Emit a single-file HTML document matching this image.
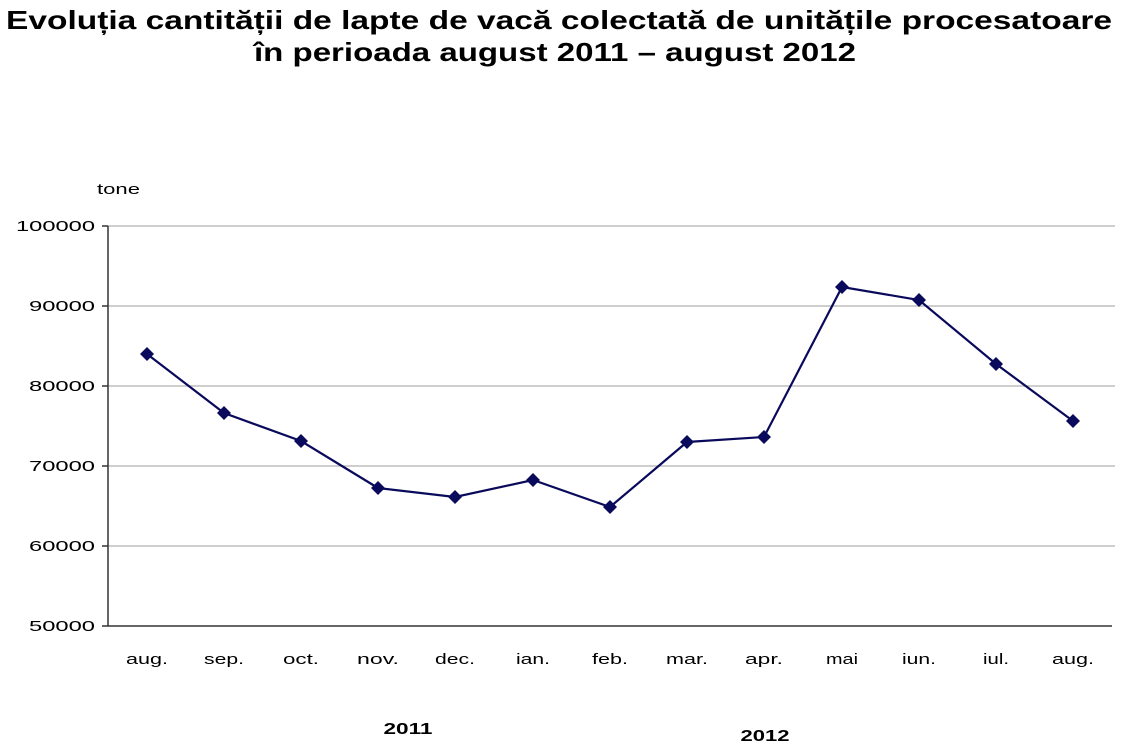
<!DOCTYPE html>
<html><head><meta charset="utf-8"><style>
html,body{margin:0;padding:0;background:#fff;}
svg{display:block;}
</style></head><body>
<svg width="1123" height="750" viewBox="0 0 1123 750" xmlns="http://www.w3.org/2000/svg" font-family="Liberation Sans, Arial, sans-serif">
<text x="559" y="29" text-anchor="middle" font-size="26" font-weight="bold" fill="#000" textLength="1106" lengthAdjust="spacingAndGlyphs">Evoluția cantității de lapte de vacă colectată de unitățile procesatoare</text>
<text x="555" y="61" text-anchor="middle" font-size="26" font-weight="bold" fill="#000" textLength="602" lengthAdjust="spacingAndGlyphs">în perioada august 2011 – august 2012</text>
<text x="97" y="194" font-size="15" fill="#000" textLength="43" lengthAdjust="spacingAndGlyphs">tone</text>
<g stroke="#bdbdbd" stroke-width="1.5">
<line x1="108" y1="226" x2="1115" y2="226"/>
<line x1="108" y1="306" x2="1115" y2="306"/>
<line x1="108" y1="386" x2="1115" y2="386"/>
<line x1="108" y1="466" x2="1115" y2="466"/>
<line x1="108" y1="546" x2="1115" y2="546"/>
</g>
<g stroke="#333" stroke-width="1.5">
<line x1="108" y1="226" x2="108" y2="626"/>
<line x1="108" y1="626" x2="1112" y2="626"/>
<line x1="102" y1="226" x2="108" y2="226"/>
<line x1="102" y1="306" x2="108" y2="306"/>
<line x1="102" y1="386" x2="108" y2="386"/>
<line x1="102" y1="466" x2="108" y2="466"/>
<line x1="102" y1="546" x2="108" y2="546"/>
<line x1="102" y1="626" x2="108" y2="626"/>
</g>
<g font-size="15" text-anchor="end" fill="#000" lengthAdjust="spacingAndGlyphs">
<text x="95" y="231" textLength="79" lengthAdjust="spacingAndGlyphs">100000</text>
<text x="95" y="311" textLength="66" lengthAdjust="spacingAndGlyphs">90000</text>
<text x="95" y="391" textLength="66" lengthAdjust="spacingAndGlyphs">80000</text>
<text x="95" y="471" textLength="66" lengthAdjust="spacingAndGlyphs">70000</text>
<text x="95" y="551" textLength="66" lengthAdjust="spacingAndGlyphs">60000</text>
<text x="95" y="631" textLength="66" lengthAdjust="spacingAndGlyphs">50000</text>
</g>
<g font-size="15" text-anchor="middle" fill="#000">
<text x="147" y="664" textLength="42" lengthAdjust="spacingAndGlyphs">aug.</text>
<text x="224" y="664" textLength="40" lengthAdjust="spacingAndGlyphs">sep.</text>
<text x="301" y="664" textLength="36" lengthAdjust="spacingAndGlyphs">oct.</text>
<text x="378" y="664" textLength="42" lengthAdjust="spacingAndGlyphs">nov.</text>
<text x="455" y="664" textLength="40" lengthAdjust="spacingAndGlyphs">dec.</text>
<text x="533" y="664" textLength="34" lengthAdjust="spacingAndGlyphs">ian.</text>
<text x="610" y="664" textLength="36" lengthAdjust="spacingAndGlyphs">feb.</text>
<text x="687" y="664" textLength="42" lengthAdjust="spacingAndGlyphs">mar.</text>
<text x="764" y="664" textLength="38" lengthAdjust="spacingAndGlyphs">apr.</text>
<text x="842" y="664" textLength="32" lengthAdjust="spacingAndGlyphs">mai</text>
<text x="919" y="664" textLength="34" lengthAdjust="spacingAndGlyphs">iun.</text>
<text x="996" y="664" textLength="26" lengthAdjust="spacingAndGlyphs">iul.</text>
<text x="1073" y="664" textLength="42" lengthAdjust="spacingAndGlyphs">aug.</text>
</g>
<text x="408" y="734" text-anchor="middle" font-size="16" font-weight="bold" textLength="49" lengthAdjust="spacingAndGlyphs">2011</text>
<text x="765" y="741" text-anchor="middle" font-size="16" font-weight="bold" textLength="49" lengthAdjust="spacingAndGlyphs">2012</text>
<polyline fill="none" stroke="#0a0a5c" stroke-width="2.2" points="147,354 224,413 301,441 378,488 455,497 533,480 610,507 687,442 764,437 842,287 919,300 996,364 1073,421"/>
<g fill="#0a0a5c">
<path d="M147,347 l7,7 l-7,7 l-7,-7z"/>
<path d="M224,406 l7,7 l-7,7 l-7,-7z"/>
<path d="M301,434 l7,7 l-7,7 l-7,-7z"/>
<path d="M378,481 l7,7 l-7,7 l-7,-7z"/>
<path d="M455,490 l7,7 l-7,7 l-7,-7z"/>
<path d="M533,473 l7,7 l-7,7 l-7,-7z"/>
<path d="M610,500 l7,7 l-7,7 l-7,-7z"/>
<path d="M687,435 l7,7 l-7,7 l-7,-7z"/>
<path d="M764,430 l7,7 l-7,7 l-7,-7z"/>
<path d="M842,280 l7,7 l-7,7 l-7,-7z"/>
<path d="M919,293 l7,7 l-7,7 l-7,-7z"/>
<path d="M996,357 l7,7 l-7,7 l-7,-7z"/>
<path d="M1073,414 l7,7 l-7,7 l-7,-7z"/>
</g>
</svg>
</body></html>
